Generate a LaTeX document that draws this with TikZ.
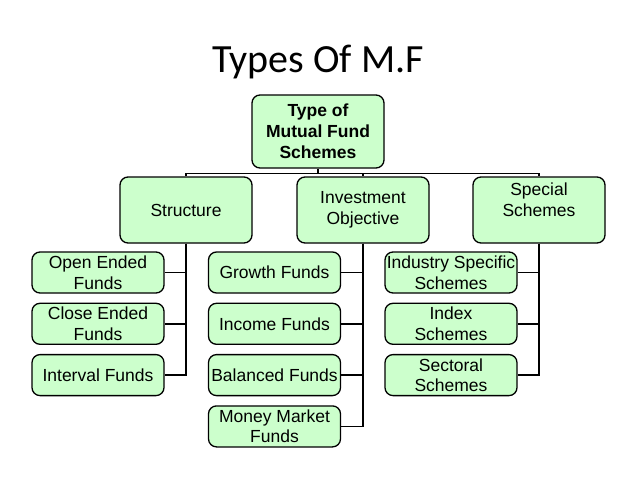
\documentclass[tikz,border=0pt]{standalone}
\usepackage{fontspec}
\setmainfont{Liberation Sans}
\newfontfamily\titlefont{Carlito}
\usetikzlibrary{positioning}
\definecolor{boxgreen}{RGB}{204,255,204}
\tikzstyle{block} = [rectangle, rounded corners=8pt, minimum width=132pt, minimum height=41pt, inner sep=1pt, align=center, draw=black, line width=1.3pt, fill=boxgreen, font=\fontsize{17.5}{20.5}\selectfont]
\tikzstyle{topblock} = [block, minimum height=66pt]
\tikzstyle{link} = [line width=1.4pt, black]

\begin{document}
\begin{tikzpicture}[x=1pt, y=1pt, node distance=9pt]

    \useasboundingbox (0,0) rectangle (638,-479);

    % Title
    \node (title) [anchor=base, font=\titlefont\fontsize{40}{44}\selectfont] at (318,-72) {Types Of M.F};

    % Root block
    \node (root) [block, minimum height=73pt, font=\bfseries\fontsize{17.5}{21}\selectfont] at (318,-131.5) {Type of\\Mutual Fund\\Schemes};

    % Second level
    \node (structure) [topblock] at (186,-210) {Structure};
    \node (objective) [topblock] at (363,-210) {Investment\\Objective};
    \node (special) [topblock] at (539,-210) {Special\\Schemes\\\mbox{}};

    % Structure branch
    \node (openended) [block] at (98,-272.5) {Open Ended\\Funds};
    \node (closeended) [block, below=of openended] {Close Ended\\Funds};
    \node (interval) [block, below=of closeended] {Interval Funds};

    % Objective branch
    \node (growth) [block] at (274.5,-272.5) {Growth Funds};
    \node (income) [block, below=of growth] {Income Funds};
    \node (balanced) [block, below=of income] {Balanced Funds};
    \node (moneymarket) [block, below=of balanced] {Money Market\\Funds};

    % Special branch
    \node (industry) [block] at (451,-272.5) {Industry Specific\\Schemes};
    \node (index) [block, below=of industry] {Index\\Schemes};
    \node (sectoral) [block, below=of index] {Sectoral\\Schemes};

    % Bus under the root
    \draw [link] (root.south) -- ++(0,-5) coordinate (bus);
    \draw [link] (structure.north) |- (bus) -| (special.north);
    \draw [link] (bus) -| (objective.north);

    \foreach \child in {openended, closeended, interval}
        \draw [link] (structure.south) |- (\child.east);
    \foreach \child in {growth, income, balanced, moneymarket}
        \draw [link] (objective.south) |- (\child.east);
    \foreach \child in {industry, index, sectoral}
        \draw [link] (special.south) |- (\child.east);

\end{tikzpicture}
\end{document}
